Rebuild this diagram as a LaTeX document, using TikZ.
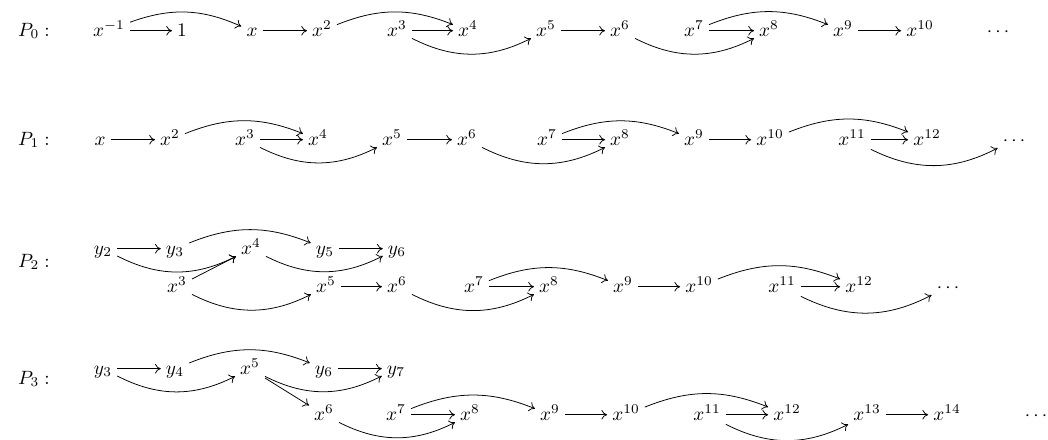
\documentclass[tikz,border=0pt]{standalone}
\usetikzlibrary{arrows.meta}

\begin{document}
\begin{tikzpicture}[x=0.52pt, y=-0.52pt,
		el/.style={anchor=base, inner xsep=2.5pt, inner ysep=1.5pt, text height=8pt, text depth=2.5pt},
		st/.style={-{To[length=3pt, width=5pt]}, line width=0.4pt},
		arcup/.style={bend left=22},
		arcdn/.style={bend right=27}]
	\useasboundingbox (0,0) rectangle (1048,439);
	
	% Подписи строк
	\node[el] (p0) at (34,36) {$P_0:$};
	\node[el] (p1) at (34,145) {$P_1:$};
	\node[el] (p2) at (34,267) {$P_2:$};
	\node[el] (p3) at (34,384) {$P_3:$};
	
	% Строка P_0
	\node[el] (am1) at (109,36) {$x^{-1}$};
	\node[el] (a0) at (182,36) {$1$};
	\node[el] (a1) at (252,36) {$x$};
	\node[el] (a2) at (322,36) {$x^2$};
	\node[el] (a3) at (397,36) {$x^3$};
	\node[el] (a4) at (468,36) {$x^4$};
	\node[el] (a5) at (546,36) {$x^5$};
	\node[el] (a6) at (620,36) {$x^6$};
	\node[el] (a7) at (694,36) {$x^7$};
	\node[el] (a8) at (769,36) {$x^8$};
	\node[el] (a9) at (843,36) {$x^9$};
	\node[el] (a10) at (920,36) {$x^{10}$};
	\node[el] (ad) at (998,36) {$\cdots$};
	
	\draw[st] (am1) -- (a0);
	\draw[st] (am1) to[arcup] (a1);
	\draw[st] (a1) -- (a2);
	\draw[st] (a2) to[arcup] (a4);
	\draw[st] (a3) -- (a4);
	\draw[st] (a3) to[arcdn] (a5);
	\draw[st] (a5) -- (a6);
	\draw[st] (a6) to[arcdn] (a8);
	\draw[st] (a7) -- (a8);
	\draw[st] (a7) to[arcup] (a9);
	\draw[st] (a9) -- (a10);
	
	% Строка P_1
	\node[el] (b1) at (100,145) {$x$};
	\node[el] (b2) at (170,145) {$x^2$};
	\node[el] (b3) at (245,145) {$x^3$};
	\node[el] (b4) at (318,145) {$x^4$};
	\node[el] (b5) at (392,145) {$x^5$};
	\node[el] (b6) at (467,145) {$x^6$};
	\node[el] (b7) at (547,145) {$x^7$};
	\node[el] (b8) at (620,145) {$x^8$};
	\node[el] (b9) at (694,145) {$x^9$};
	\node[el] (b10) at (770,145) {$x^{10}$};
	\node[el] (b11) at (852,145) {$x^{11}$};
	\node[el] (b12) at (927,145) {$x^{12}$};
	\node[el] (bd) at (1014,145) {$\cdots$};
	
	\draw[st] (b1) -- (b2);
	\draw[st] (b2) to[arcup] (b4);
	\draw[st] (b3) -- (b4);
	\draw[st] (b3) to[arcdn] (b5);
	\draw[st] (b5) -- (b6);
	\draw[st] (b6) to[arcdn] (b8);
	\draw[st] (b7) -- (b8);
	\draw[st] (b7) to[arcup] (b9);
	\draw[st] (b9) -- (b10);
	\draw[st] (b10) to[arcup] (b12);
	\draw[st] (b11) -- (b12);
	\draw[st] (b11) to[arcdn] (bd);
	
	% Строка P_2
	\node[el] (cy2) at (103,254) {$y_2$};
	\node[el] (cy3) at (175,254) {$y_3$};
	\node[el] (c4) at (251,254) {$x^4$};
	\node[el] (cy5) at (325,254) {$y_5$};
	\node[el] (cy6) at (397,254) {$y_6$};
	\node[el] (c3) at (177,292) {$x^3$};
	\node[el] (c5) at (326,292) {$x^5$};
	\node[el] (c6) at (397,292) {$x^6$};
	\node[el] (c7) at (474,292) {$x^7$};
	\node[el] (c8) at (549,292) {$x^8$};
	\node[el] (c9) at (623,292) {$x^9$};
	\node[el] (c10) at (699,292) {$x^{10}$};
	\node[el] (c11) at (782,292) {$x^{11}$};
	\node[el] (c12) at (859,292) {$x^{12}$};
	\node[el] (cd) at (948,292) {$\cdots$};
	
	\draw[st] (cy2) -- (cy3);
	\draw[st] (cy2) to[arcdn] (c4);
	\draw[st] (c3) -- (c4);
	\draw[st] (cy3) to[arcup] (cy5);
	\draw[st] (c4) to[arcdn] (cy6);
	\draw[st] (cy5) -- (cy6);
	\draw[st] (c3) to[arcdn] (c5);
	\draw[st] (c5) -- (c6);
	\draw[st] (c6) to[arcdn] (c8);
	\draw[st] (c7) -- (c8);
	\draw[st] (c7) to[arcup] (c9);
	\draw[st] (c9) -- (c10);
	\draw[st] (c10) to[arcup] (c12);
	\draw[st] (c11) -- (c12);
	\draw[st] (c11) to[arcdn] (cd);
	
	% Строка P_3
	\node[el] (dy3) at (103,374) {$y_3$};
	\node[el] (dy4) at (175,374) {$y_4$};
	\node[el] (d5) at (250,374) {$x^5$};
	\node[el] (dy6) at (324,374) {$y_6$};
	\node[el] (dy7) at (396,374) {$y_7$};
	\node[el] (d6) at (324,420) {$x^6$};
	\node[el] (d7) at (396,420) {$x^7$};
	\node[el] (d8) at (470,420) {$x^8$};
	\node[el] (d9) at (550,420) {$x^9$};
	\node[el] (d10) at (626,420) {$x^{10}$};
	\node[el] (d11) at (707,420) {$x^{11}$};
	\node[el] (d12) at (787,420) {$x^{12}$};
	\node[el] (d13) at (867,420) {$x^{13}$};
	\node[el] (d14) at (947,420) {$x^{14}$};
	\node[el] (dd) at (1036,420) {$\cdots$};
	
	\draw[st] (dy3) -- (dy4);
	\draw[st] (dy3) to[arcdn] (d5);
	\draw[st] (dy4) to[arcup] (dy6);
	\draw[st] (d5) to[arcdn] (dy7);
	\draw[st] (d5) -- (d6);
	\draw[st] (dy6) -- (dy7);
	\draw[st] (d6) to[arcdn] (d8);
	\draw[st] (d7) -- (d8);
	\draw[st] (d7) to[arcup] (d9);
	\draw[st] (d9) -- (d10);
	\draw[st] (d10) to[arcup] (d12);
	\draw[st] (d11) -- (d12);
	\draw[st] (d11) to[arcdn] (d13);
	\draw[st] (d13) -- (d14);
\end{tikzpicture}
\end{document}
